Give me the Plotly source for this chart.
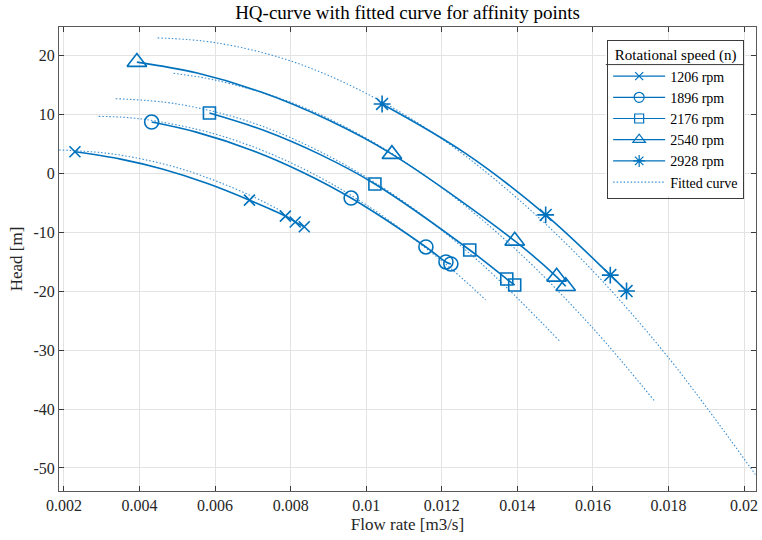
import plotly.graph_objects as go

# ---------------- data ----------------
speed_labels = ["1206 rpm", "1896 rpm", "2176 rpm", "2540 rpm", "2928 rpm"]

# measured affinity points
q_1206 = [0.00229, 0.00691, 0.00786, 0.00812, 0.00836]
h_1206 = [3.6, -4.6, -7.3, -8.3, -9.1]
q_1896 = [0.00432, 0.00960, 0.01158, 0.01211, 0.01224]
h_1896 = [8.64, -4.24, -12.54, -15.08, -15.42]
q_2176 = [0.00585, 0.01023, 0.01274, 0.01372, 0.01393]
h_2176 = [10.17, -1.86, -13.05, -17.97, -18.98]
q_2540 = [0.00393, 0.01068, 0.01393, 0.01504, 0.01528]
h_2540 = [18.8, 3.2, -11.5, -17.6, -19.2]
q_2928 = [0.01042, 0.01475, 0.01646, 0.01689]
h_2928 = [11.7, -7.1, -17.3, -20.0]

# solid lines drawn through the points
ql_1206 = [0.00229, 0.0035, 0.0046, 0.0058, 0.00691, 0.00786, 0.00812, 0.00836]
hl_1206 = [3.6, 2.35, 0.67, -1.78, -4.6, -7.3, -8.3, -9.1]
ql_1896 = [0.00432, 0.0055, 0.0070, 0.0083, 0.00960, 0.01158, 0.01211, 0.01224]
hl_1896 = [8.64, 6.93, 3.79, 0.18, -4.24, -12.54, -15.08, -15.42]
ql_2176 = [0.00585, 0.0073, 0.0088, 0.01023, 0.01274, 0.01372, 0.01393]
hl_2176 = [10.17, 7.2, 3.07, -1.86, -13.05, -17.97, -18.98]
ql_2540 = [0.00393, 0.0055, 0.0072, 0.0090, 0.01068, 0.01393, 0.01504, 0.01528]
hl_2540 = [18.8, 16.98, 13.76, 8.97, 3.2, -11.5, -17.6, -19.2]
ql_2928 = [0.01042, 0.0126, 0.01475, 0.01646, 0.01689]
hl_2928 = [11.7, 3.45, -7.1, -17.3, -20.0]

# fitted (affinity) curves, dotted
qf_1206 = [0.00187, 0.0030, 0.0040, 0.0050, 0.0060, 0.0070, 0.0078]
hf_1206 = [3.9, 3.45, 2.45, 0.9, -1.3, -4.0, -6.6]
qf_1896 = [0.00292, 0.0040, 0.0060, 0.0080, 0.0100, 0.0120, 0.01316]
hf_1896 = [9.6, 9.2, 6.6, 1.75, -5.4, -14.9, -21.5]
qf_2176 = [0.00337, 0.0050, 0.0070, 0.0090, 0.0110, 0.0130, 0.01512]
hf_2176 = [12.6, 11.7, 8.5, 2.9, -4.9, -15.1, -28.5]
qf_2540 = [0.0049, 0.0060, 0.0080, 0.0100, 0.0120, 0.0140, 0.0160, 0.01765]
hf_2540 = [16.9, 15.75, 12.0, 5.9, -2.5, -13.2, -26.3, -38.8]
qf_2928 = [0.00448, 0.0060, 0.0080, 0.0100, 0.0120, 0.0140, 0.0160, 0.0180, 0.0203]
hf_2928 = [22.9, 22.1, 19.0, 13.5, 5.8, -4.3, -16.6, -31.3, -51.1]

x_ticks = [0.002, 0.004, 0.006, 0.008, 0.010, 0.012, 0.014, 0.016, 0.018, 0.020]
x_tick_text = ["0.002", "0.004", "0.006", "0.008", "0.01", "0.012", "0.014", "0.016", "0.018", "0.02"]
y_ticks = [-50, -40, -30, -20, -10, 0, 10, 20]
y_tick_text = ["-50", "-40", "-30", "-20", "-10", "0", "10", "20"]

# ---------------- styling ----------------
BLUE = "#0072BD"
DOT_BLUE = "#3b8fd3"
FONT = "Liberation Serif"

points = [(q_1206, h_1206), (q_1896, h_1896), (q_2176, h_2176), (q_2540, h_2540), (q_2928, h_2928)]
lines = [(ql_1206, hl_1206), (ql_1896, hl_1896), (ql_2176, hl_2176), (ql_2540, hl_2540), (ql_2928, hl_2928)]
fits = [(qf_1206, hf_1206), (qf_1896, hf_1896), (qf_2176, hf_2176), (qf_2540, hf_2540), (qf_2928, hf_2928)]
symbols = ["x-thin-open", "circle-open", "square-open", "triangle-up-open", "asterisk-open"]
msizes = [11, 14, 12, 17, 14]
legend_msizes = [8, 10, 9, 11, 10]

fig = go.Figure()

for (qf, hf) in fits:
    fig.add_trace(go.Scatter(x=qf, y=hf, mode="lines", line=dict(color=DOT_BLUE, width=1.1, dash="1.5px,2px", shape="spline"),
                             showlegend=False, hoverinfo="skip"))

for (ql, hl) in lines:
    fig.add_trace(go.Scatter(x=ql, y=hl, mode="lines", line=dict(color=BLUE, width=1.6, shape="spline"),
                             showlegend=False, hoverinfo="skip"))

for (q, h), sym, ms in zip(points, symbols, msizes):
    fig.add_trace(go.Scatter(x=q, y=h, mode="markers",
                             marker=dict(symbol=sym, size=ms, color=BLUE, line=dict(color=BLUE, width=1.6)),
                             showlegend=False))

# legend entries
for lab, sym, ms in zip(speed_labels, symbols, legend_msizes):
    fig.add_trace(go.Scatter(x=[None], y=[None], mode="lines+markers", name=lab,
                             line=dict(color=BLUE, width=1.2),
                             marker=dict(symbol=sym, size=ms, color=BLUE, line=dict(color=BLUE, width=1.2))))
fig.add_trace(go.Scatter(x=[None], y=[None], mode="lines", name="Fitted curve",
                         line=dict(color=DOT_BLUE, width=1.1, dash="1.5px,2px")))

axis_common = dict(showgrid=True, gridcolor="#e3e3e3", gridwidth=1, zeroline=False,
                   showline=True, linecolor="#5a5a5a", linewidth=1, mirror="ticks",
                   ticks="inside", ticklen=5, tickcolor="#3a3a3a", tickwidth=1,
                   tickfont=dict(family=FONT, size=16, color="#262626"))

# legend box geometry (paper coordinates of the plot area)
LEG_X0, LEG_X1 = 0.7845, 0.983
LEG_Y1 = 0.972
SEP_Y = 0.919

fig.update_layout(
    width=762, height=540,
    margin=dict(l=59, r=4, t=27, b=49),
    paper_bgcolor="white", plot_bgcolor="white",
    title=dict(text="HQ-curve with fitted curve for affinity points", x=0.5, xref="paper", xanchor="center",
               y=1 - 12 / 540, yanchor="middle", font=dict(family=FONT, size=19, color="#000000")),
    xaxis=dict(range=[0.001868, 0.020317], tickvals=x_ticks, ticktext=x_tick_text,
               title=dict(text="Flow rate [m3/s]", font=dict(family=FONT, size=17, color="#262626"), standoff=4),
               **axis_common),
    yaxis=dict(range=[-53.9, 24.75], tickvals=y_ticks, ticktext=y_tick_text,
               title=dict(text="Head [m]", font=dict(family=FONT, size=17, color="#262626"), standoff=6),
               **axis_common),
    legend=dict(x=LEG_X1, y=LEG_Y1, xanchor="right", yanchor="top",
                bgcolor="rgba(0,0,0,0)", bordercolor="#3a3a3a", borderwidth=1,
                font=dict(family=FONT, size=14, color="#000000"),
                title=dict(text="Rotational speed (n)", side="top center", font=dict(family=FONT, size=15, color="#000000")),
                itemwidth=52, tracegroupgap=0),
    shapes=[
        dict(type="rect", xref="paper", yref="paper", layer="above", x0=LEG_X0, x1=LEG_X1,
             y0=0.636, y1=LEG_Y1, fillcolor="white", line=dict(width=0)),
        dict(type="line", xref="paper", yref="paper", layer="above", x0=LEG_X0, x1=LEG_X1,
             y0=SEP_Y, y1=SEP_Y, line=dict(color="#3a3a3a", width=1)),
    ],
)

fig.write_html("out.html")
